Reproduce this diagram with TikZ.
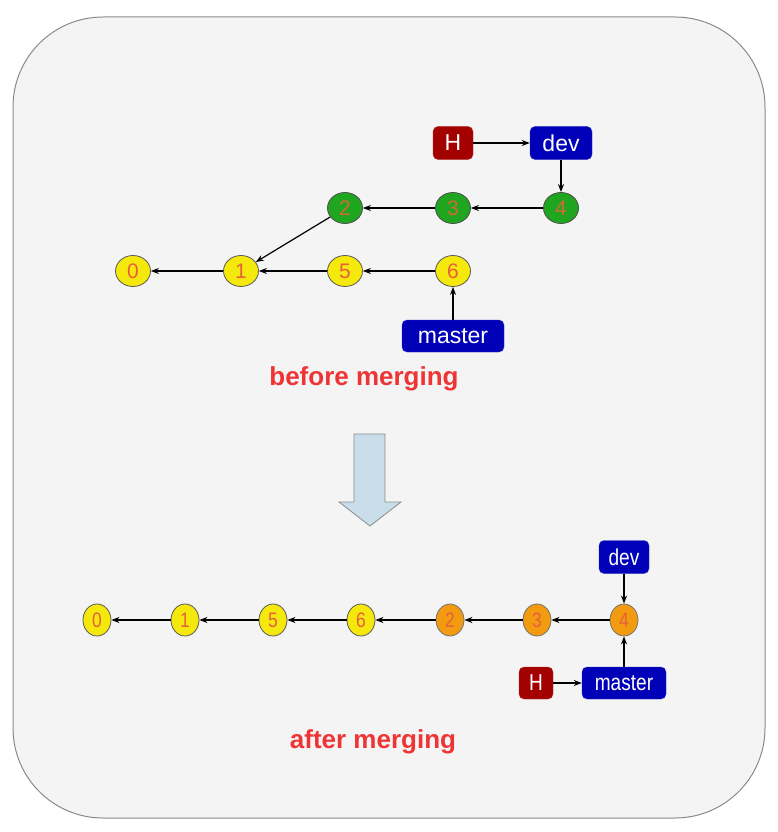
\documentclass[tikz,border=0pt]{standalone}
\usepackage{fontspec}
\setmainfont{Liberation Sans}
\usetikzlibrary{shapes.geometric,arrows.meta}
\definecolor{bgc}{HTML}{F4F4F4}
\definecolor{bgline}{HTML}{8A8A8A}
\definecolor{ylw}{HTML}{F4E80C}
\definecolor{grn}{HTML}{1FA51F}
\definecolor{org}{HTML}{F29A10}
\definecolor{digit}{HTML}{E8603C}
\definecolor{digitg}{HTML}{D2693A}
\definecolor{bluebox}{HTML}{0000B8}
\definecolor{redbox}{HTML}{A30000}
\definecolor{redtxt}{HTML}{EE3434}
\definecolor{arrfill}{HTML}{C9DDEB}
\begin{document}
\begin{tikzpicture}[x=1pt,y=-1pt,
  commit/.style={ellipse,draw=black!65,line width=0.8pt,inner sep=0pt,
    minimum width=35pt,minimum height=31pt,
    font=\fontsize{21}{21}\selectfont,text=digit},
  ycommit/.style={commit,fill=ylw},
  gcommit/.style={commit,fill=grn,draw=black!70,text=digitg},
  acommit/.style={commit,minimum width=28pt,minimum height=32pt},
  aycommit/.style={acommit,fill=ylw},
  aocommit/.style={acommit,fill=org,draw=black!55},
  label/.style={rounded corners=5pt,inner sep=0pt,text=white,
    font=\fontsize{23}{23}\selectfont,minimum height=33pt},
  bbox/.style={label,fill=bluebox,draw=bluebox!80!white},
  rbox/.style={label,fill=redbox,draw=redbox!80!white},
  conn/.style={-{Stealth[length=8pt,width=6pt]},line width=1.2pt,black},
  caption/.style={font=\fontsize{26}{26}\selectfont\bfseries,text=redtxt}
]
\useasboundingbox (0,0) rectangle (778,832);
\draw[fill=bgc,draw=bgline,line width=1pt,rounded corners=90pt] (13,17) rectangle (765,818);

% ---------- before merging ----------
\node[rbox,minimum width=40pt] (hb) at (453,143) {H};
\node[bbox,minimum width=62pt] (devb) at (561,143) {dev};
\node[gcommit] (b4) at (561,208) {4};
\node[gcommit] (b3) at (453,208) {3};
\node[gcommit] (b2) at (345,208) {2};
\node[ycommit] (b0) at (133,271) {0};
\node[ycommit] (b1) at (241,271) {1};
\node[ycommit] (b5) at (345,271) {5};
\node[ycommit] (b6) at (453,271) {6};
\node[bbox,minimum width=102pt,minimum height=32pt] (masterb) at (453,336) {master};
\node[caption] (capb) at (364,379) {before merging};

\draw[conn] (hb) -- (devb);
\draw[conn] (devb) -- (b4);
\draw[conn] (b4) -- (b3);
\draw[conn] (b3) -- (b2);
\draw[conn] (b2) -- (b1);
\draw[conn] (b1) -- (b0);
\draw[conn] (b5) -- (b1);
\draw[conn] (b6) -- (b5);
\draw[conn] (masterb) -- (b6);

% ---------- big arrow ----------
\draw[fill=arrfill,draw=black!45,line width=0.8pt]
  (354,434) -- (385,434) -- (385,502) -- (401,502) -- (370,526) -- (339,502) -- (354,502) -- cycle;

% ---------- after merging ----------
\node[aycommit] (a0) at (97,620) {\scalebox{0.83}[1]{0}};
\node[aycommit] (a1) at (185,620) {\scalebox{0.83}[1]{1}};
\node[aycommit] (a5) at (273,620) {\scalebox{0.83}[1]{5}};
\node[aycommit] (a6) at (361,620) {\scalebox{0.83}[1]{6}};
\node[aocommit] (a2) at (450,620) {\scalebox{0.83}[1]{2}};
\node[aocommit] (a3) at (537,620) {\scalebox{0.83}[1]{3}};
\node[aocommit] (a4) at (624,620) {\scalebox{0.83}[1]{4}};
\node[bbox,minimum width=50pt] (deva) at (624,557) {\scalebox{0.83}[1]{dev}};
\node[bbox,minimum width=84pt,minimum height=32pt] (mastera) at (624,683) {\scalebox{0.83}[1]{master}};
\node[rbox,minimum width=34pt,minimum height=32pt] (ha) at (536,683) {\scalebox{0.83}[1]{H}};
\node[caption] (capa) at (373,742) {after merging};

\draw[conn] (deva) -- (a4);
\draw[conn] (mastera) -- (a4);
\draw[conn] (ha) -- (mastera);
\draw[conn] (a4) -- (a3);
\draw[conn] (a3) -- (a2);
\draw[conn] (a2) -- (a6);
\draw[conn] (a6) -- (a5);
\draw[conn] (a5) -- (a1);
\draw[conn] (a1) -- (a0);
\end{tikzpicture}
\end{document}
